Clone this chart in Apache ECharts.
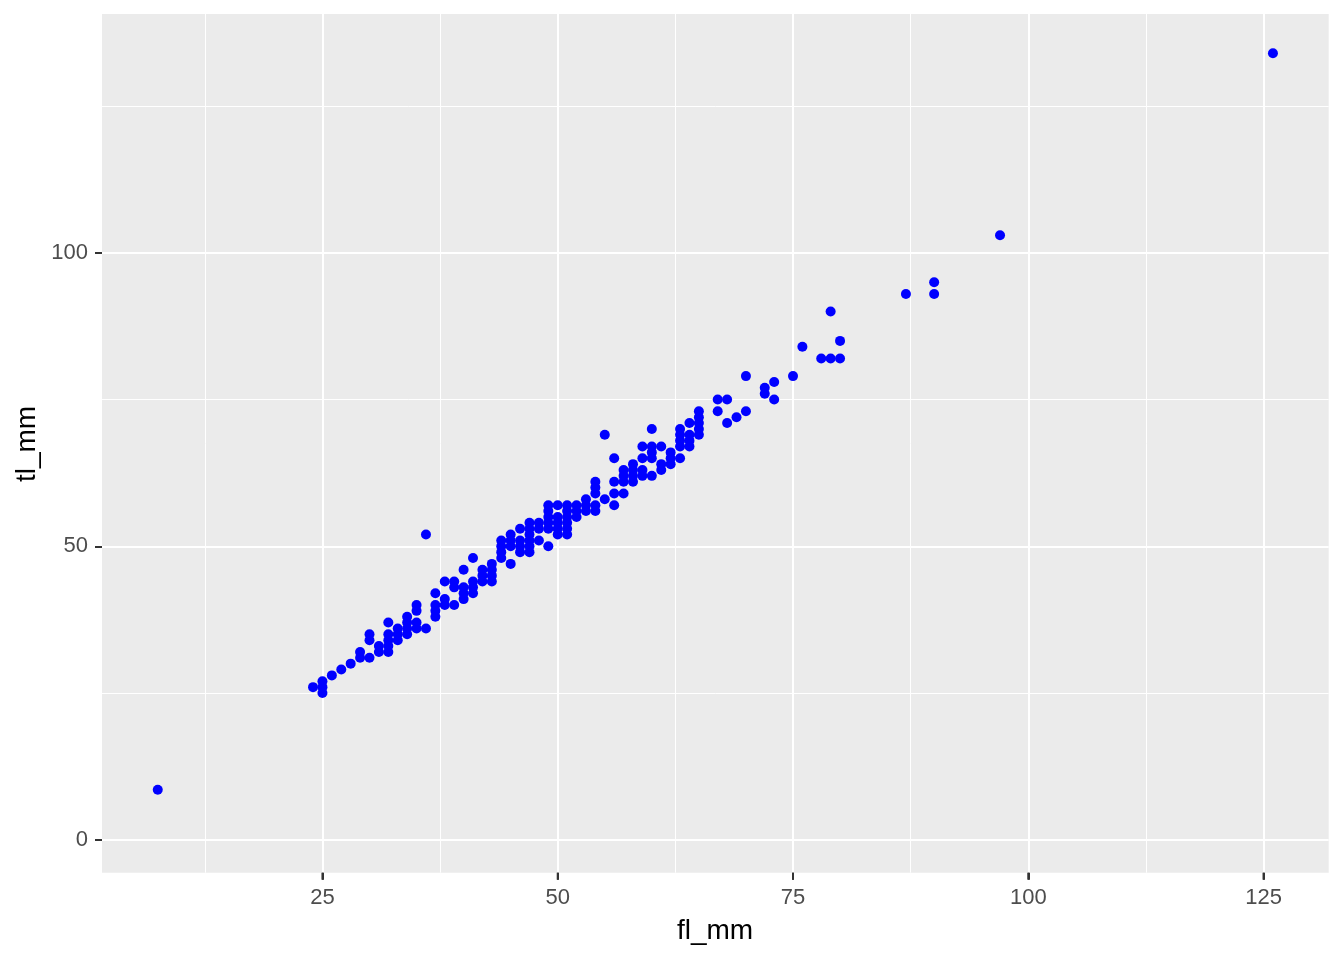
<!DOCTYPE html>
<html>
<head>
<meta charset="utf-8">
<script src="https://cdn.jsdelivr.net/npm/echarts@6/dist/echarts.min.js"></script>
<style>html,body{margin:0;padding:0;background:#fff}#c{width:1344px;height:960px}</style>
</head>
<body>
<div id="c"></div>
<script>
// fl_mm / tl_mm pairs
const flMm = [7.5,24,25,25,25,26,27,28,29,29,30,30,30,31,31,32,32,32,32,32,33,33,33,34,34,34,34,35,35,35,35,36,36,37,37,37,37,38,38,38,39,39,39,40,40,40,40,41,41,41,41,42,42,42,43,43,43,43,44,44,44,44,45,45,45,45,46,46,46,46,47,47,47,47,47,47,48,48,48,49,49,49,49,49,49,50,50,50,50,50,51,51,51,51,51,51,52,52,52,53,53,53,54,54,54,54,54,55,55,56,56,56,56,57,57,57,57,58,58,58,58,59,59,59,59,60,60,60,60,60,61,61,61,62,62,62,63,63,63,63,63,64,64,64,64,65,65,65,65,65,67,67,68,68,69,70,70,72,72,73,73,75,76,78,79,79,80,80,87,90,90,97,126];
const tlMm = [8.5,26,27,26,25,28,29,30,32,31,35,34,31,33,32,37,35,34,33,32,36,35,34,38,37,36,35,40,39,37,36,36,52,42,40,39,38,44,41,40,44,43,40,46,43,42,41,48,44,43,42,46,45,44,47,46,45,44,51,50,49,48,52,51,50,47,53,51,50,49,54,53,52,51,50,49,54,53,51,57,56,55,54,53,50,57,55,54,53,52,57,56,55,54,53,52,57,56,55,58,57,56,61,60,59,57,56,69,58,65,61,59,57,63,62,61,59,64,63,62,61,67,65,63,62,70,67,66,65,62,67,64,63,66,65,64,70,69,68,67,65,71,69,68,67,73,72,71,70,69,75,73,75,71,72,79,73,77,76,78,75,79,84,82,90,82,85,82,93,95,93,103,134];
const xMajor = [25, 50, 75, 100, 125];
const xMinor = [12.5, 37.5, 62.5, 87.5, 112.5];
const yMajor = [0, 50, 100];
const yMinor = [25, 75, 125];
const xTitle = 'fl_mm';
const yTitle = 'tl_mm';

const pts = flMm.map((x, i) => [x, tlMm[i]]);
const X_MIN = 1.575, X_MAX = 131.925, Y_MIN = -5.62, Y_MAX = 140.7;
const font = 'Liberation Sans, Arial, sans-serif';
const rect = {left: 102, right: 15.3, top: 14, bottom: 87.3};

// grid 0: background + gridlines only; grid 1: ticks, labels and points
const gridAxis = (min, max, pos, vals, w) => ({
  type: 'value', gridIndex: 0, min: min, max: max, position: pos,
  axisLine: {show: false, onZero: false}, axisLabel: {show: false},
  axisTick: {show: false, customValues: vals},
  splitLine: {show: true, lineStyle: {color: '#ffffff', width: w}}
});

const chart = echarts.init(document.getElementById('c'), null, {renderer: 'canvas'});
chart.setOption({
  animation: false,
  grid: [
    Object.assign({show: true, backgroundColor: '#EBEBEB', borderWidth: 0}, rect),
    Object.assign({show: false}, rect)
  ],
  xAxis: [
    gridAxis(X_MIN, X_MAX, 'top', xMinor, 1),
    gridAxis(X_MIN, X_MAX, 'bottom', xMajor, 2),
    {type: 'value', gridIndex: 1, min: X_MIN, max: X_MAX, position: 'bottom',
     axisLine: {show: false, onZero: false},
     axisTick: {show: true, customValues: xMajor, length: 7, lineStyle: {color: '#333333', width: 2}},
     axisLabel: {customValues: xMajor, color: '#4D4D4D', fontSize: 22, fontFamily: font, margin: 14},
     splitLine: {show: false}}
  ],
  yAxis: [
    gridAxis(Y_MIN, Y_MAX, 'right', yMinor, 1),
    gridAxis(Y_MIN, Y_MAX, 'left', yMajor, 2),
    {type: 'value', gridIndex: 1, min: Y_MIN, max: Y_MAX, position: 'left',
     axisLine: {show: false, onZero: false},
     axisTick: {show: true, customValues: yMajor, length: 7, lineStyle: {color: '#333333', width: 2}},
     axisLabel: {customValues: yMajor, color: '#4D4D4D', fontSize: 22, fontFamily: font, margin: 14},
     splitLine: {show: false}}
  ],
  graphic: [
    {type: 'text', x: 715, y: 931,
     style: {text: xTitle, fill: '#000', font: '28px ' + font, textAlign: 'center', textVerticalAlign: 'middle'}},
    {type: 'text', x: 27, y: 444, rotation: Math.PI / 2,
     style: {text: yTitle, fill: '#000', font: '28px ' + font, textAlign: 'center', textVerticalAlign: 'middle'}}
  ],
  series: [
    {
      type: 'scatter', xAxisIndex: 2, yAxisIndex: 2,
      data: pts, symbol: 'circle', symbolSize: 10,
      itemStyle: {color: '#0000FF', opacity: 1}
    },
    {
      // x-axis tick marks below the panel, placed through the axis scale
      type: 'custom', xAxisIndex: 2, yAxisIndex: 2, clip: false, silent: true, z: 5,
      data: xMajor.map(v => [v, Y_MIN]),
      renderItem: (params, api) => {
        const p = api.coord([api.value(0), api.value(1)]);
        return {type: 'line', shape: {x1: p[0], y1: p[1], x2: p[0], y2: p[1] + 7},
                style: {stroke: '#333333', lineWidth: 2}};
      }
    }
  ]
});
</script>
</body>
</html>
